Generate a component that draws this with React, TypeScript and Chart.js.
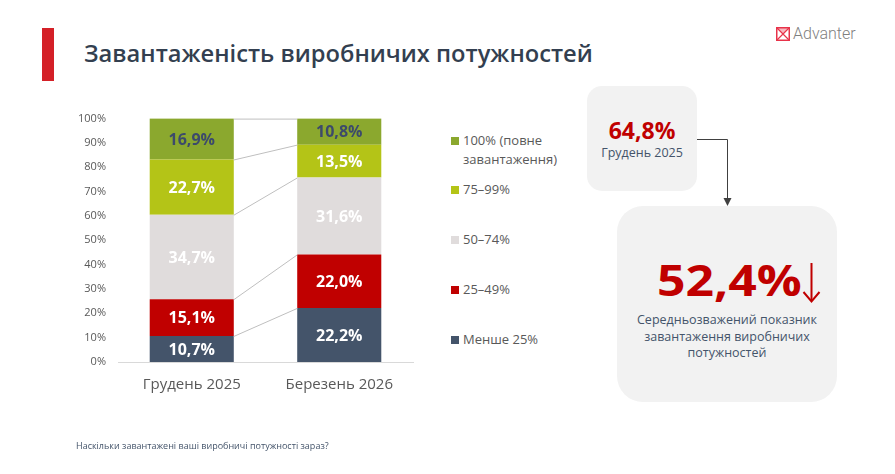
import { useEffect, useRef } from "react";
import Chart from "chart.js/auto";

const categories = ["Грудень 2025", "Березень 2026"];
const seriesNames = ["Менше 25%", "25–49%", "50–74%", "75–99%", "100% (повне завантаження)"];
const under25 = [10.7, 22.2];
const from25to49 = [15.1, 22.0];
const from50to74 = [34.7, 31.6];
const from75to99 = [22.7, 13.5];
const full100 = [16.9, 10.8];
const seriesValues = [under25, from25to49, from50to74, from75to99, full100];
const yTicks = [0, 10, 20, 30, 40, 50, 60, 70, 80, 90, 100];

const colors = ["#44546a", "#c00000", "#e0dcdc", "#b4c417", "#8ba82e"];
const labelColors = ["#ffffff", "#ffffff", "#ffffff", "#ffffff", "#3c4a6b"];

const fmt = (v: number) => v.toFixed(1).replace(".", ",") + "%";

const connectorPlugin = {
  id: "connectors",
  afterDatasetsDraw(chart: any) {
    const { ctx, chartArea } = chart;
    ctx.save();
    ctx.strokeStyle = "#bfbfbf";
    ctx.lineWidth = 1;
    chart.data.datasets.forEach((_: any, i: number) => {
      const meta = chart.getDatasetMeta(i);
      const a = meta.data[0];
      const b = meta.data[1];
      if (!a || !b) return;
      const y0 = Math.max(a.y, chartArea.top) + 0.5;
      const y1 = Math.max(b.y, chartArea.top) + 0.5;
      ctx.beginPath();
      ctx.moveTo(a.x + a.width / 2, y0);
      ctx.lineTo(b.x - b.width / 2, y1);
      ctx.stroke();
    });
    ctx.restore();
  },
};

const labelPlugin = {
  id: "segmentLabels",
  afterDatasetsDraw(chart: any) {
    const { ctx, chartArea } = chart;
    ctx.save();
    ctx.font = "bold 16px 'Open Sans'";
    ctx.textAlign = "center";
    ctx.textBaseline = "middle";
    chart.data.datasets.forEach((ds: any, i: number) => {
      const meta = chart.getDatasetMeta(i);
      meta.data.forEach((bar: any, j: number) => {
        const top = Math.max(bar.y, chartArea.top);
        ctx.fillStyle = labelColors[i];
        ctx.fillText(fmt(ds.data[j]), bar.x, (top + bar.base) / 2 + 1);
      });
    });
    ctx.restore();
  },
};

const StackedChart = () => {
  const chartRef = useRef<HTMLCanvasElement>(null);

  useEffect(() => {
    if (!chartRef.current) return;

    const chart = new Chart(chartRef.current, {
      type: "bar",
      data: {
        labels: categories,
        datasets: seriesValues.map((values, i) => ({
          label: seriesNames[i],
          data: values,
          backgroundColor: colors[i],
          borderWidth: 0,
          categoryPercentage: 1,
          barPercentage: 0.57,
        })),
      },
      options: {
        responsive: true,
        maintainAspectRatio: false,
        animation: false,
        layout: { padding: { top: 17, right: 17, left: 0, bottom: 0 } },
        plugins: {
          legend: { display: false },
          tooltip: { enabled: false },
        },
        scales: {
          x: {
            stacked: true,
            grid: { display: false, drawTicks: false },
            border: { display: true, color: "#d9d9d9", width: 1 },
            ticks: {
              color: "#595959",
              padding: 14,
              font: { family: "'Open Sans'", size: 15 },
            },
            afterFit: (scale: any) => {
              scale.height = 38;
            },
          },
          y: {
            stacked: true,
            min: 0,
            max: 100,
            afterBuildTicks: (scale: any) => {
              scale.ticks = yTicks.map((v) => ({ value: v }));
            },
            grid: { display: false, drawTicks: false },
            border: { display: false },
            ticks: {
              color: "#595959",
              padding: 12,
              font: { family: "'Open Sans'", size: 11 },
              callback: (v: any) => v + "%",
            },
            afterFit: (scale: any) => {
              scale.width = 58;
            },
          },
        },
      },
      plugins: [connectorPlugin, labelPlugin],
    });

    return () => {
      chart.destroy();
    };
  }, []);

  return (
    <div style={{ position: "absolute", left: 60, top: 100, width: 370, height: 300 }}>
      <canvas ref={chartRef} />
    </div>
  );
};

const legendOrder = [4, 3, 2, 1, 0];
const legendTops = [131, 180, 230, 280, 330];

const App = () => {
  const font = "'Open Sans', 'Noto Sans', sans-serif";
  return (
    <div
      style={{
        position: "absolute",
        left: 0,
        top: 0,
        width: 895,
        height: 474,
        background: "#ffffff",
        fontFamily: font,
        overflow: "hidden",
      }}
    >
      <div style={{ position: "absolute", left: 42, top: 28, width: 12, height: 53, background: "#d42027" }} />
      <div
        style={{
          position: "absolute",
          left: 84,
          top: 37,
          fontSize: 23.7,
          fontWeight: 600,
          color: "#333f50",
          whiteSpace: "nowrap",
          lineHeight: "32px",
        }}
      >
        Завантаженість виробничих потужностей
      </div>

      <div style={{ position: "absolute", left: 776, top: 24, display: "flex", alignItems: "center" }}>
        <svg width="14" height="14" viewBox="0 0 14 14">
          <rect x="0.75" y="0.75" width="12.5" height="12.5" fill="none" stroke="#e8334a" strokeWidth="1.5" />
          <path d="M1 1 L13 13 M13 1 L1 13" stroke="#e8334a" strokeWidth="1.2" />
          <path d="M1 1 L13 1 L7 7 Z" fill="#e8334a" opacity="0.35" />
        </svg>
        <span
          style={{
            marginLeft: 3,
            fontFamily: "Roboto, sans-serif",
            fontWeight: 300,
            fontSize: 16,
            color: "#7f7f7f",
            lineHeight: "20px",
          }}
        >
          Advanter
        </span>
      </div>

      <StackedChart />

      {legendOrder.map((idx, k) => (
        <div
          key={idx}
          style={{
            position: "absolute",
            left: 451,
            top: legendTops[k],
            display: "flex",
            alignItems: "flex-start",
            fontSize: 13,
            color: "#595959",
            lineHeight: "19px",
            width: 120,
          }}
        >
          <span
            style={{
              display: "inline-block",
              width: 8,
              height: 8,
              background: colors[idx],
              marginTop: 6,
              marginRight: 4,
              flex: "none",
            }}
          />
          <span>{seriesNames[idx]}</span>
        </div>
      ))}

      <div
        style={{
          position: "absolute",
          left: 587,
          top: 86,
          width: 110,
          height: 105,
          borderRadius: 15,
          background: "#f2f2f2",
          textAlign: "center",
        }}
      >
        <div style={{ marginTop: 30, fontSize: 23, fontWeight: 700, color: "#c00000", lineHeight: "28px" }}>64,8%</div>
        <div style={{ fontSize: 12.5, color: "#44546a", lineHeight: "18px" }}>Грудень 2025</div>
      </div>

      <div
        style={{
          position: "absolute",
          left: 617,
          top: 206,
          width: 220,
          height: 196,
          borderRadius: 26,
          background: "#f2f2f2",
        }}
      />
      <div
        style={{
          position: "absolute",
          left: 657,
          top: 258,
          fontSize: 43,
          fontWeight: 700,
          color: "#c00000",
          lineHeight: "43px",
          whiteSpace: "nowrap",
          transform: "scaleX(1.16)",
          transformOrigin: "left top",
        }}
      >
        52,4%
      </div>
      <div
        style={{
          position: "absolute",
          left: 617,
          top: 312,
          width: 220,
          textAlign: "center",
          fontSize: 12.5,
          color: "#44546a",
          lineHeight: "16.5px",
        }}
      >
        Середньозважений показник
        <br />
        завантаження виробничих
        <br />
        потужностей
      </div>

      <svg style={{ position: "absolute", left: 0, top: 0 }} width="895" height="474">
        <path d="M697 139.5 L727.5 139.5 L727.5 199" fill="none" stroke="#404040" strokeWidth="1" />
        <path d="M723.5 198 L731.5 198 L727.5 206 Z" fill="#404040" />
        <path d="M811.5 263 L811.5 301" fill="none" stroke="#c00000" strokeWidth="2" />
        <path d="M803.5 292 L811.5 301.5 L819.5 292" fill="none" stroke="#c00000" strokeWidth="2" />
      </svg>

      <div style={{ position: "absolute", left: 76, top: 439, fontSize: 9, color: "#44546a", whiteSpace: "nowrap" }}>
        Наскільки завантажені ваші виробничі потужності зараз?
      </div>
    </div>
  );
};

export default App;
